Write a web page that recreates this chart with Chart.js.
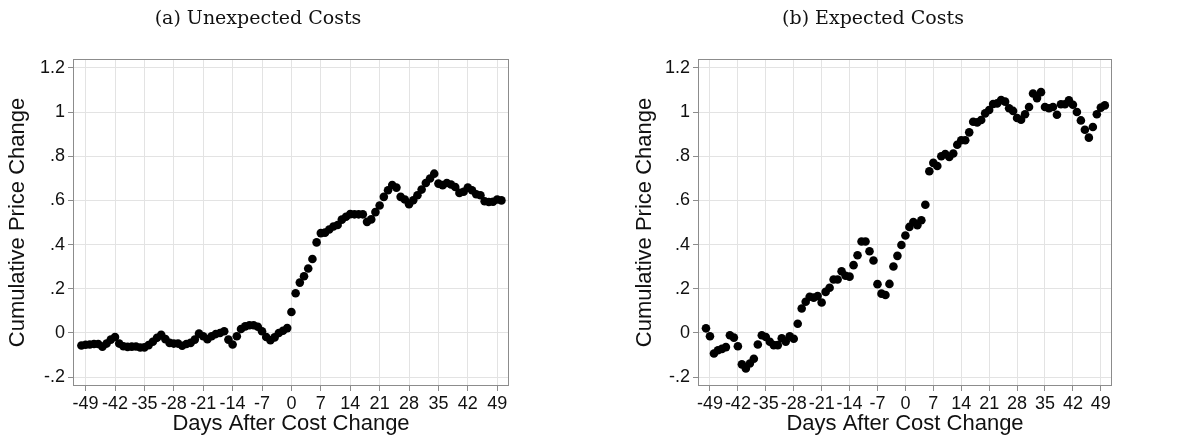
<!DOCTYPE html>
<html>
<head>
<meta charset="utf-8">
<script src="https://cdn.jsdelivr.net/npm/chart.js@4.4.1/dist/chart.umd.min.js"></script>
<style>
  html, body { margin: 0; padding: 0; background: #fff; }
  body { width: 1179px; height: 440px; position: relative; overflow: hidden; }
  canvas { position: absolute; top: 0; }
  #panelA { left: 7px; }
  #panelB { left: 634px; }
</style>
</head>
<body>
<canvas id="panelA" width="553" height="440"></canvas>
<canvas id="panelB" width="545" height="440"></canvas>
<script>
// days relative to the cost change
const days = [
  -50, -49, -48, -47, -46, -45, -44, -43, -42, -41,
  -40, -39, -38, -37, -36, -35, -34, -33, -32, -31,
  -30, -29, -28, -27, -26, -25, -24, -23, -22, -21,
  -20, -19, -18, -17, -16, -15, -14, -13, -12, -11,
  -10, -9, -8, -7, -6, -5, -4, -3, -2, -1,
  0, 1, 2, 3, 4, 5, 6, 7, 8, 9,
  10, 11, 12, 13, 14, 15, 16, 17, 18, 19,
  20, 21, 22, 23, 24, 25, 26, 27, 28, 29,
  30, 31, 32, 33, 34, 35, 36, 37, 38, 39,
  40, 41, 42, 43, 44, 45, 46, 47, 48, 49,
  50
];

// (a) unexpected costs
const unexpectedCosts = [
  -0.057, -0.053, -0.052, -0.05, -0.05, -0.062, -0.048, -0.03, -0.018, -0.048,
  -0.06, -0.063, -0.062, -0.061, -0.066, -0.065, -0.055, -0.04, -0.022, -0.008,
  -0.028, -0.045, -0.048, -0.048, -0.058, -0.05, -0.045, -0.03, -0.003, -0.015,
  -0.028, -0.015, -0.005, 0.0, 0.008, -0.03, -0.052, -0.015, 0.018, 0.03,
  0.035, 0.035, 0.028, 0.008, -0.018, -0.033, -0.02, 0.0, 0.01, 0.022,
  0.095, 0.18, 0.228, 0.257, 0.292, 0.335, 0.41, 0.452, 0.454, 0.468,
  0.482, 0.489, 0.513, 0.526, 0.538, 0.537, 0.537, 0.537, 0.503, 0.514,
  0.547, 0.577, 0.616, 0.646, 0.67, 0.658, 0.616, 0.604, 0.583, 0.601,
  0.623, 0.649, 0.679, 0.699, 0.721, 0.676, 0.669, 0.679, 0.672, 0.661,
  0.634, 0.639, 0.658, 0.646, 0.628, 0.623, 0.596, 0.593, 0.594, 0.604,
  0.6
];

// (b) expected costs
const expectedCosts = [
  0.021, -0.015, -0.093, -0.078, -0.072, -0.064, -0.01, -0.021, -0.06, -0.142,
  -0.161, -0.138, -0.117, -0.052, -0.01, -0.018, -0.04, -0.055, -0.055, -0.024,
  -0.039, -0.015, -0.026, 0.042, 0.111, 0.141, 0.164, 0.16, 0.167, 0.138,
  0.186, 0.205, 0.242, 0.242, 0.279, 0.259, 0.255, 0.307, 0.352, 0.414,
  0.414, 0.37, 0.328, 0.221, 0.178, 0.172, 0.222, 0.301, 0.349, 0.398,
  0.441, 0.48, 0.502, 0.488, 0.51, 0.58, 0.732, 0.77, 0.756, 0.8,
  0.81, 0.797, 0.812, 0.852, 0.872, 0.872, 0.908, 0.956, 0.953, 0.964,
  0.994, 1.009, 1.036, 1.039, 1.054, 1.047, 1.017, 1.005, 0.973, 0.965,
  0.99, 1.023, 1.084, 1.063, 1.09, 1.023, 1.017, 1.023, 0.988, 1.035,
  1.035, 1.053, 1.033, 1.0, 0.962, 0.92, 0.884, 0.932, 0.99, 1.02,
  1.03
];

const xTicks = [-49, -42, -35, -28, -21, -14, -7, 0, 7, 14, 21, 28, 35, 42, 49];
const yTicks = [-0.2, 0, 0.2, 0.4, 0.6, 0.8, 1, 1.2];

Chart.defaults.font.family = "'Liberation Sans', Arial, sans-serif";
Chart.defaults.color = '#111';

// stata style: '.8' instead of '0.8'
function stataLabel(v) {
  return String(Math.round(v * 10) / 10).replace('0.', '.');
}

// box around the whole plot region
const frame = {
  id: 'frame',
  beforeDatasetsDraw(chart) {
    const { ctx, chartArea: a } = chart;
    ctx.save();
    ctx.strokeStyle = '#8c8c8c';
    ctx.lineWidth = 1;
    ctx.strokeRect(a.left + 0.5, a.top + 0.5, a.right - a.left - 1, a.bottom - a.top - 1);
    ctx.restore();
  }
};

function buildPanel(canvasId, caption, values, yAxisWidth, rightPad) {
  const points = days.map((d, i) => ({ x: d, y: values[i] }));
  return new Chart(document.getElementById(canvasId), {
    type: 'scatter',
    data: {
      datasets: [{
        data: points,
        backgroundColor: '#000',
        borderWidth: 0,
        pointRadius: 4.3,
        pointHoverRadius: 4.3
      }]
    },
    options: {
      responsive: false,
      animation: false,
      layout: { padding: { left: 0, right: rightPad, top: 0, bottom: 0 } },
      plugins: {
        legend: { display: false },
        tooltip: { enabled: false },
        title: {
          display: true,
          text: caption,
          color: '#111',
          font: { family: "'DejaVu Serif', serif", size: 19, weight: 'normal' },
          padding: { top: 8, bottom: 28.2 }
        }
      },
      scales: {
        x: {
          min: -52,
          max: 51.8,
          afterBuildTicks: s => { s.ticks = xTicks.map(v => ({ value: v })); },
          afterFit: s => { s.height = 54; },
          grid: { color: '#e3e3e3', tickColor: '#8c8c8c', tickLength: 5 },
          border: { display: false },
          ticks: { font: { size: 18 }, padding: 2, maxRotation: 0, autoSkip: false },
          title: {
            display: true,
            text: 'Days After Cost Change',
            font: { size: 22, lineHeight: 1 },
            padding: { top: 0, bottom: 5 }
          }
        },
        y: {
          min: -0.24,
          max: 1.24,
          afterBuildTicks: s => { s.ticks = yTicks.map(v => ({ value: v })); },
          afterFit: s => { s.width = yAxisWidth; },
          grid: { color: '#e3e3e3', tickColor: '#8c8c8c', tickLength: 5 },
          border: { display: false },
          ticks: { font: { size: 18 }, padding: 3, callback: v => stataLabel(v) },
          title: {
            display: true,
            text: 'Cumulative Price Change',
            font: { size: 22, lineHeight: 1 },
            padding: { top: 0, bottom: 0 }
          }
        }
      }
    },
    plugins: [frame]
  });
}

buildPanel('panelA', '(a) Unexpected Costs', unexpectedCosts, 66, 51);
buildPanel('panelB', '(b) Expected Costs', expectedCosts, 64, 67);
</script>
</body>
</html>
